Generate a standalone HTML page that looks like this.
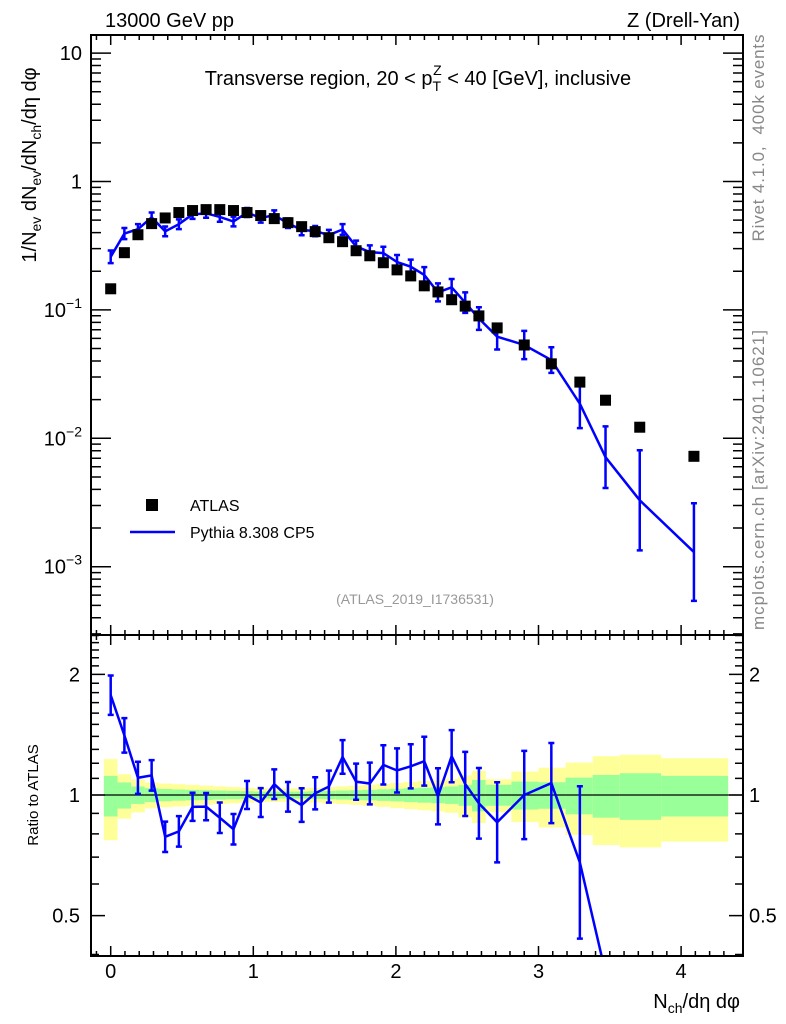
<!DOCTYPE html>
<html><head><meta charset="utf-8"><style>
html,body{margin:0;padding:0;background:#fff;overflow:hidden;width:786px;height:1024px;}
svg{display:block;font-family:"Liberation Sans",sans-serif;}
</style></head><body>
<svg id="chart" width="786" height="1024" viewBox="0 0 786 1024" xmlns="http://www.w3.org/2000/svg">
<defs>
<clipPath id="mainClip"><rect x="91" y="35" width="652" height="600"/></clipPath>
<clipPath id="ratioClip"><rect x="91" y="635" width="652" height="321"/></clipPath>
</defs>
<rect width="786" height="1024" fill="#fff"/>
<g id="bands" clip-path="url(#ratioClip)"></g>
<g id="marks"></g>
<g id="axes"></g>
<text x="105" y="27" font-size="20">13000 GeV pp</text>
<text x="740" y="27" font-size="20" text-anchor="end">Z (Drell-Yan)</text>
<text x="418" y="85" font-size="20" text-anchor="middle">Transverse region, 20 &lt; p<tspan font-size="14" dy="6">T</tspan><tspan font-size="14" dx="-8" dy="-16">Z</tspan><tspan dy="10"> &lt; 40 [GeV], inclusive</tspan></text>
<text transform="translate(764,138) rotate(-90)" font-size="17" fill="#888" text-anchor="middle" textLength="207" lengthAdjust="spacing" xml:space="preserve">Rivet 4.1.0,  400k events</text>
<text transform="translate(764,480) rotate(-90)" font-size="17" fill="#888" text-anchor="middle" textLength="300" lengthAdjust="spacing">mcplots.cern.ch [arXiv:2401.10621]</text>
<text x="415" y="604" font-size="14" fill="#999" text-anchor="middle">(ATLAS_2019_I1736531)</text>
<text transform="translate(36,165) rotate(-90)" font-size="20" text-anchor="middle">1/N<tspan font-size="14" dy="5">ev</tspan><tspan dy="-5"> dN</tspan><tspan font-size="14" dy="5">ev</tspan><tspan dy="-5">/dN</tspan><tspan font-size="14" dy="5">ch</tspan><tspan dy="-5">/dη dφ</tspan></text>
<text transform="translate(38,795) rotate(-90)" font-size="15" text-anchor="middle">Ratio to ATLAS</text>
<text x="740" y="1008" font-size="20" text-anchor="end">N<tspan font-size="14" dy="5">ch</tspan><tspan dy="-5">/dη dφ</tspan></text>
<g>
<rect x="146" y="499" width="12" height="12" fill="#000"/>
<text x="190" y="511" font-size="16">ATLAS</text>
<line x1="130" y1="532" x2="175" y2="532" stroke="#0000ff" stroke-width="2.5"/>
<text x="190" y="538" font-size="16">Pythia 8.308 CP5</text>
</g>
</svg>
<script>
const xCenters=[0,0.096,0.191,0.287,0.382,0.478,0.574,0.669,0.765,0.861,0.956,1.052,1.147,1.243,1.339,1.434,1.530,1.626,1.721,1.817,1.912,2.008,2.104,2.199,2.295,2.391,2.486,2.582,2.71,2.90,3.09,3.29,3.47,3.71,4.09];
const binEdges=[-0.048,0.048,0.143,0.239,0.335,0.430,0.526,0.621,0.717,0.813,0.908,1.004,1.100,1.195,1.291,1.386,1.482,1.578,1.673,1.769,1.865,1.960,2.056,2.152,2.247,2.343,2.438,2.534,2.630,2.81,3.0,3.19,3.38,3.57,3.86,4.33];
const atlasValues=[0.146,0.279,0.385,0.47,0.52,0.573,0.594,0.604,0.604,0.594,0.573,0.543,0.514,0.478,0.445,0.407,0.365,0.34,0.289,0.264,0.233,0.205,0.184,0.154,0.138,0.12,0.107,0.0898,0.0724,0.0533,0.038,0.0274,0.0198,0.0122,0.00724];
const pythiaValues=[0.259,0.393,0.425,0.526,0.409,0.465,0.555,0.565,0.530,0.488,0.573,0.520,0.547,0.473,0.420,0.411,0.383,0.423,0.312,0.282,0.277,0.236,0.217,0.187,0.137,0.150,0.114,0.0856,0.0619,0.0533,0.0407,0.0186,0.00713,0.00329,0.0013];
const pythiaLogErr=[0.049,0.043,0.040,0.038,0.038,0.038,0.035,0.034,0.038,0.038,0.035,0.036,0.037,0.037,0.042,0.040,0.040,0.042,0.045,0.052,0.049,0.055,0.055,0.061,0.070,0.065,0.080,0.088,0.10,0.11,0.10,0.19,0.24,0.39,0.38];
const bandTotal=[0.229,0.127,0.095,0.074,0.068,0.064,0.06,0.055,0.051,0.047,0.043,0.039,0.039,0.039,0.039,0.043,0.047,0.051,0.055,0.06,0.066,0.072,0.078,0.084,0.09,0.097,0.12,0.149,0.095,0.144,0.17,0.205,0.25,0.26,0.235];
const bandStat=[0.116,0.075,0.05,0.04,0.035,0.032,0.03,0.028,0.026,0.024,0.022,0.02,0.02,0.02,0.02,0.022,0.024,0.026,0.028,0.03,0.033,0.036,0.04,0.043,0.046,0.05,0.06,0.09,0.06,0.08,0.076,0.105,0.122,0.133,0.116];
const xTickLabels=["0","1","2","3","4"];
const mainTickExp=[1,0,-1,-2,-3];
const ratioTickLabels=["0.5","1","2"];

const NS="http://www.w3.org/2000/svg";
const L=91,R=743,MT=35,MB=635,RT=635,RB=956;
const RMIN=0.397,RMAX=2.52;
const X=v=>110.7+v*142.6;
const Y=v=>181.5-128.4*Math.log10(v);
const YR=v=>795-400.9*Math.log10(v);
function mk(tag,attrs,parent){const e=document.createElementNS(NS,tag);for(const k in attrs)e.setAttribute(k,attrs[k]);parent.appendChild(e);return e;}
const bands=document.getElementById('bands'),marks=document.getElementById('marks'),axes=document.getElementById('axes');

for(let i=0;i<xCenters.length;i++){
  const x0=X(binEdges[i]),x1=X(binEdges[i+1]);
  const y=mk('rect',{x:x0,y:YR(1+bandTotal[i]),width:x1-x0,height:YR(1-bandTotal[i])-YR(1+bandTotal[i]),fill:'#ffff99'},bands);
  
  
  const g=mk('rect',{x:x0,y:YR(1+bandStat[i]),width:x1-x0,height:YR(1-bandStat[i])-YR(1+bandStat[i]),fill:'#99ff99'},bands);
  
  
}
const one=mk('line',{x1:L,x2:R,y1:YR(1),y2:YR(1),stroke:'#000','stroke-width':1.2},marks);



const mg=mk('g',{'clip-path':'url(#mainClip)'},marks);
let pts=xCenters.map((x,i)=>X(x)+','+Y(pythiaValues[i])).join(' ');
const pl=mk('polyline',{points:pts,fill:'none',stroke:'#0000ff','stroke-width':2.5},mg);


for(let i=0;i<xCenters.length;i++){
  const x=X(xCenters[i]),lv=Math.log10(pythiaValues[i]);
  const y1=Y(Math.pow(10,lv+pythiaLogErr[i])),y2=Y(Math.pow(10,lv-pythiaLogErr[i]));
  const eb=mk('path',{d:`M${x},${y1}V${y2}M${x-3},${y1}H${x+3}M${x-3},${y2}H${x+3}`,stroke:'#0000ff','stroke-width':2.5,fill:'none'},mg);
  
  
}
for(let i=0;i<xCenters.length;i++){
  const r=mk('rect',{x:X(xCenters[i])-5.5,y:Y(atlasValues[i])-5.5,width:11,height:11,fill:'#000'},mg);
  
  
}
const rg=mk('g',{'clip-path':'url(#ratioClip)'},marks);
pts=xCenters.map((x,i)=>X(x)+','+YR(pythiaValues[i]/atlasValues[i])).join(' ');
const rl=mk('polyline',{points:pts,fill:'none',stroke:'#0000ff','stroke-width':2.5},rg);


for(let i=0;i<xCenters.length;i++){
  const rv=pythiaValues[i]/atlasValues[i];
  if(rv<RMIN||rv>RMAX)continue;
  const x=X(xCenters[i]),lv=Math.log10(rv);
  const y1=YR(Math.pow(10,lv+pythiaLogErr[i])),y2=YR(Math.pow(10,lv-pythiaLogErr[i]));
  const eb=mk('path',{d:`M${x},${y1}V${y2}M${x-3},${y1}H${x+3}M${x-3},${y2}H${x+3}`,stroke:'#0000ff','stroke-width':2.5,fill:'none'},rg);
  
  
}

const f1=mk('rect',{x:L,y:MT,width:R-L,height:MB-MT,fill:'none',stroke:'#000','stroke-width':2},axes);


const f2=mk('rect',{x:L,y:RT,width:R-L,height:RB-RT,fill:'none',stroke:'#000','stroke-width':2},axes);


let d='';
for(let k=-1;k<=43;k++){
  const v=k/10;const x=X(v);if(x<L||x>R)continue;
  const len=(k%10===0)?10:5;
  d+=`M${x},${MT}v${len}M${x},${MB}v${-len}M${x},${RT}v${len}M${x},${RB}v${-len}`;
}
for(let e=-4;e<=1;e++){for(let m=1;m<10;m++){const v=m*Math.pow(10,e);const y=Y(v);if(y<MT||y>MB)continue;const len=m===1?20:10;d+=`M${L},${y}h${len}M${R},${y}h${-len}`;}}
for(let k=4;k<=25;k++){const v=k/10;const y=YR(v);if(y<RT||y>RB)continue;const len=(k===5||k===10||k===20)?14:8;d+=`M${L},${y}h${len}M${R},${y}h${-len}`;}
const tk=mk('path',{d:d,stroke:'#000','stroke-width':1.5,fill:'none'},axes);


xTickLabels.forEach((s,i)=>{const t=mk('text',{x:X(+s),y:978,'font-size':20,'text-anchor':'middle'},axes);t.textContent=s;
  
  });
mainTickExp.forEach(e=>{const y=Y(Math.pow(10,e));const t=mk('text',{x:82,y:y+7,'font-size':20,'text-anchor':'end'},axes);
  if(e===1)t.textContent='10';else if(e===0)t.textContent='1';else{t.textContent='10';const s=mk('tspan',{'font-size':14,dy:-9},t);s.textContent='−'+(-e);}
  
  });
ratioTickLabels.forEach(s=>{const y=YR(+s);
  const t=mk('text',{x:80,y:y+7,'font-size':20,'text-anchor':'end'},axes);t.textContent=s;
  
  
  const t2=mk('text',{x:749,y:y+7,'font-size':20},axes);t2.textContent=s;
  
  });
</script>
</body></html>
